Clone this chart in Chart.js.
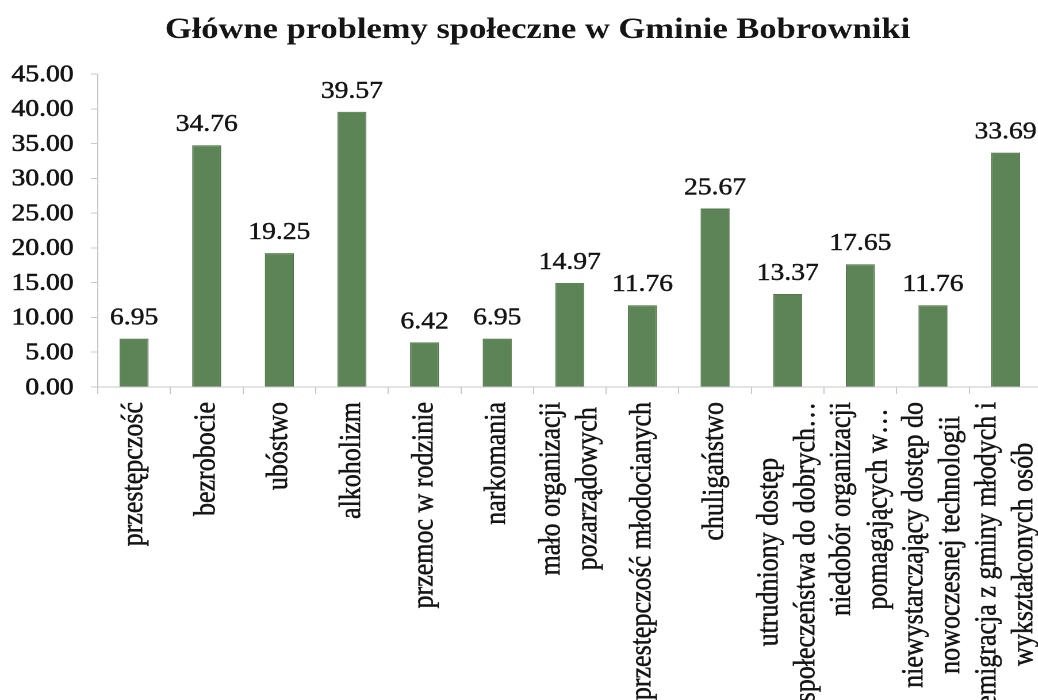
<!DOCTYPE html>
<html><head><meta charset="utf-8">
<script src="https://cdn.jsdelivr.net/npm/chart.js@4.4.0/dist/chart.umd.min.js"></script>
<style>
html,body{margin:0;padding:0;background:#fff;overflow:hidden;width:1038px;height:700px;}
#wrap{position:absolute;left:0;top:0;width:906px;height:700px;transform:scaleX(1.15);transform-origin:0 0;}
</style></head><body>
<div id="wrap"><canvas id="c" width="906" height="700"></canvas></div>
<script>
const chartTitle = 'Główne problemy społeczne w Gminie Bobrowniki';
const categories = [
  ['przestępczość'],
  ['bezrobocie'],
  ['ubóstwo'],
  ['alkoholizm'],
  ['przemoc w rodzinie'],
  ['narkomania'],
  ['mało organizacji', 'pozarządowych'],
  ['przestępczość młodocianych'],
  ['chuligaństwo'],
  ['utrudniony dostęp', 'społeczeństwa do dobrych…'],
  ['niedobór organizacji', 'pomagających w…'],
  ['niewystarczający dostęp do', 'nowoczesnej technologii'],
  ['emigracja z gminy młodych i', 'wykształconych osób']
];
const values = [6.95, 34.76, 19.25, 39.57, 6.42, 6.95, 14.97, 11.76, 25.67, 13.37, 17.65, 11.76, 33.69];
const yTickValues = [0, 5, 10, 15, 20, 25, 30, 35, 40, 45];

const FONT = '"Liberation Serif", "Times New Roman", serif';
const TEXT = '#151515';

function heavyText(ctx, s, x, y) {
  ctx.fillText(s, x, y);
  ctx.strokeText(s, x, y);
}

const textPlugin = {
  id: 'textPlugin',
  afterDatasetsDraw(chart) {
    const ctx = chart.ctx;
    const meta = chart.getDatasetMeta(0);
    ctx.save();
    ctx.font = '24px ' + FONT;
    ctx.fillStyle = TEXT;
    ctx.strokeStyle = TEXT;
    ctx.lineWidth = 0.45;
    ctx.textAlign = 'center';
    ctx.textBaseline = 'alphabetic';
    meta.data.forEach((bar, i) => {
      heavyText(ctx, values[i].toFixed(2), bar.x, bar.y - 14);
    });
    ctx.restore();
  },
  afterDraw(chart) {
    const ctx = chart.ctx;
    const xs = chart.scales.x;
    const ys = chart.scales.y;
    // y tick labels
    ctx.save();
    ctx.font = '24px ' + FONT;
    ctx.fillStyle = TEXT;
    ctx.strokeStyle = TEXT;
    ctx.lineWidth = 0.6;
    ctx.textAlign = 'right';
    ctx.textBaseline = 'middle';
    ys.ticks.forEach(t => {
      heavyText(ctx, Number(t.value).toFixed(2), ys.right - 21, ys.getPixelForValue(t.value) + 1);
    });
    ctx.restore();
    // x category labels, rotated, lines centred on each other
    const top = xs.top + 15;
    const lh = 32;
    ctx.save();
    ctx.font = '26px ' + FONT;
    ctx.fillStyle = TEXT;
    ctx.strokeStyle = TEXT;
    ctx.lineWidth = 0.45;
    ctx.textAlign = 'center';
    ctx.textBaseline = 'middle';
    xs.ticks.forEach((t, i) => {
      const lines = Array.isArray(t.label) ? t.label : [t.label];
      const x = xs.getPixelForTick(i);
      const maxW = Math.max(...lines.map(l => ctx.measureText(l).width));
      ctx.save();
      ctx.translate(x, top);
      ctx.rotate(-Math.PI / 2);
      lines.forEach((l, j) => {
        heavyText(ctx, l, -maxW / 2, (j - (lines.length - 1) / 2) * lh);
      });
      ctx.restore();
    });
    ctx.restore();
  }
};

new Chart(document.getElementById('c'), {
  type: 'bar',
  data: {
    labels: categories,
    datasets: [{
      data: values,
      backgroundColor: '#5d8456',
      borderColor: '#52784b',
      borderWidth: 1,
      barPercentage: 0.4,
      categoryPercentage: 1
    }]
  },
  options: {
    responsive: false,
    animation: false,
    devicePixelRatio: 2,
    layout: { padding: { left: 28.8, right: 0, top: 0, bottom: 0 } },
    plugins: {
      legend: { display: false },
      tooltip: { enabled: false },
      title: {
        display: true,
        text: chartTitle,
        color: TEXT,
        font: { family: FONT, size: 30, weight: 'bold' },
        padding: { top: 12, bottom: 26 }
      }
    },
    scales: {
      x: {
        grid: { display: true, drawOnChartArea: false, drawTicks: true, tickLength: 7, color: '#c8c8c8', offset: true },
        border: { color: '#c8c8c8' },
        ticks: { display: false, autoSkip: false },
        afterFit(s) { s.height = 313; }
      },
      y: {
        min: 0, max: 45,
        afterBuildTicks(s) { s.ticks = yTickValues.map(v => ({ value: v })); },
        ticks: { display: false },
        grid: { drawOnChartArea: false, drawTicks: true, tickLength: 6, color: '#c8c8c8' },
        border: { color: '#c8c8c8' },
        afterFit(s) { s.width = 56.2; }
      }
    }
  },
  plugins: [textPlugin]
});
</script>
</body></html>
